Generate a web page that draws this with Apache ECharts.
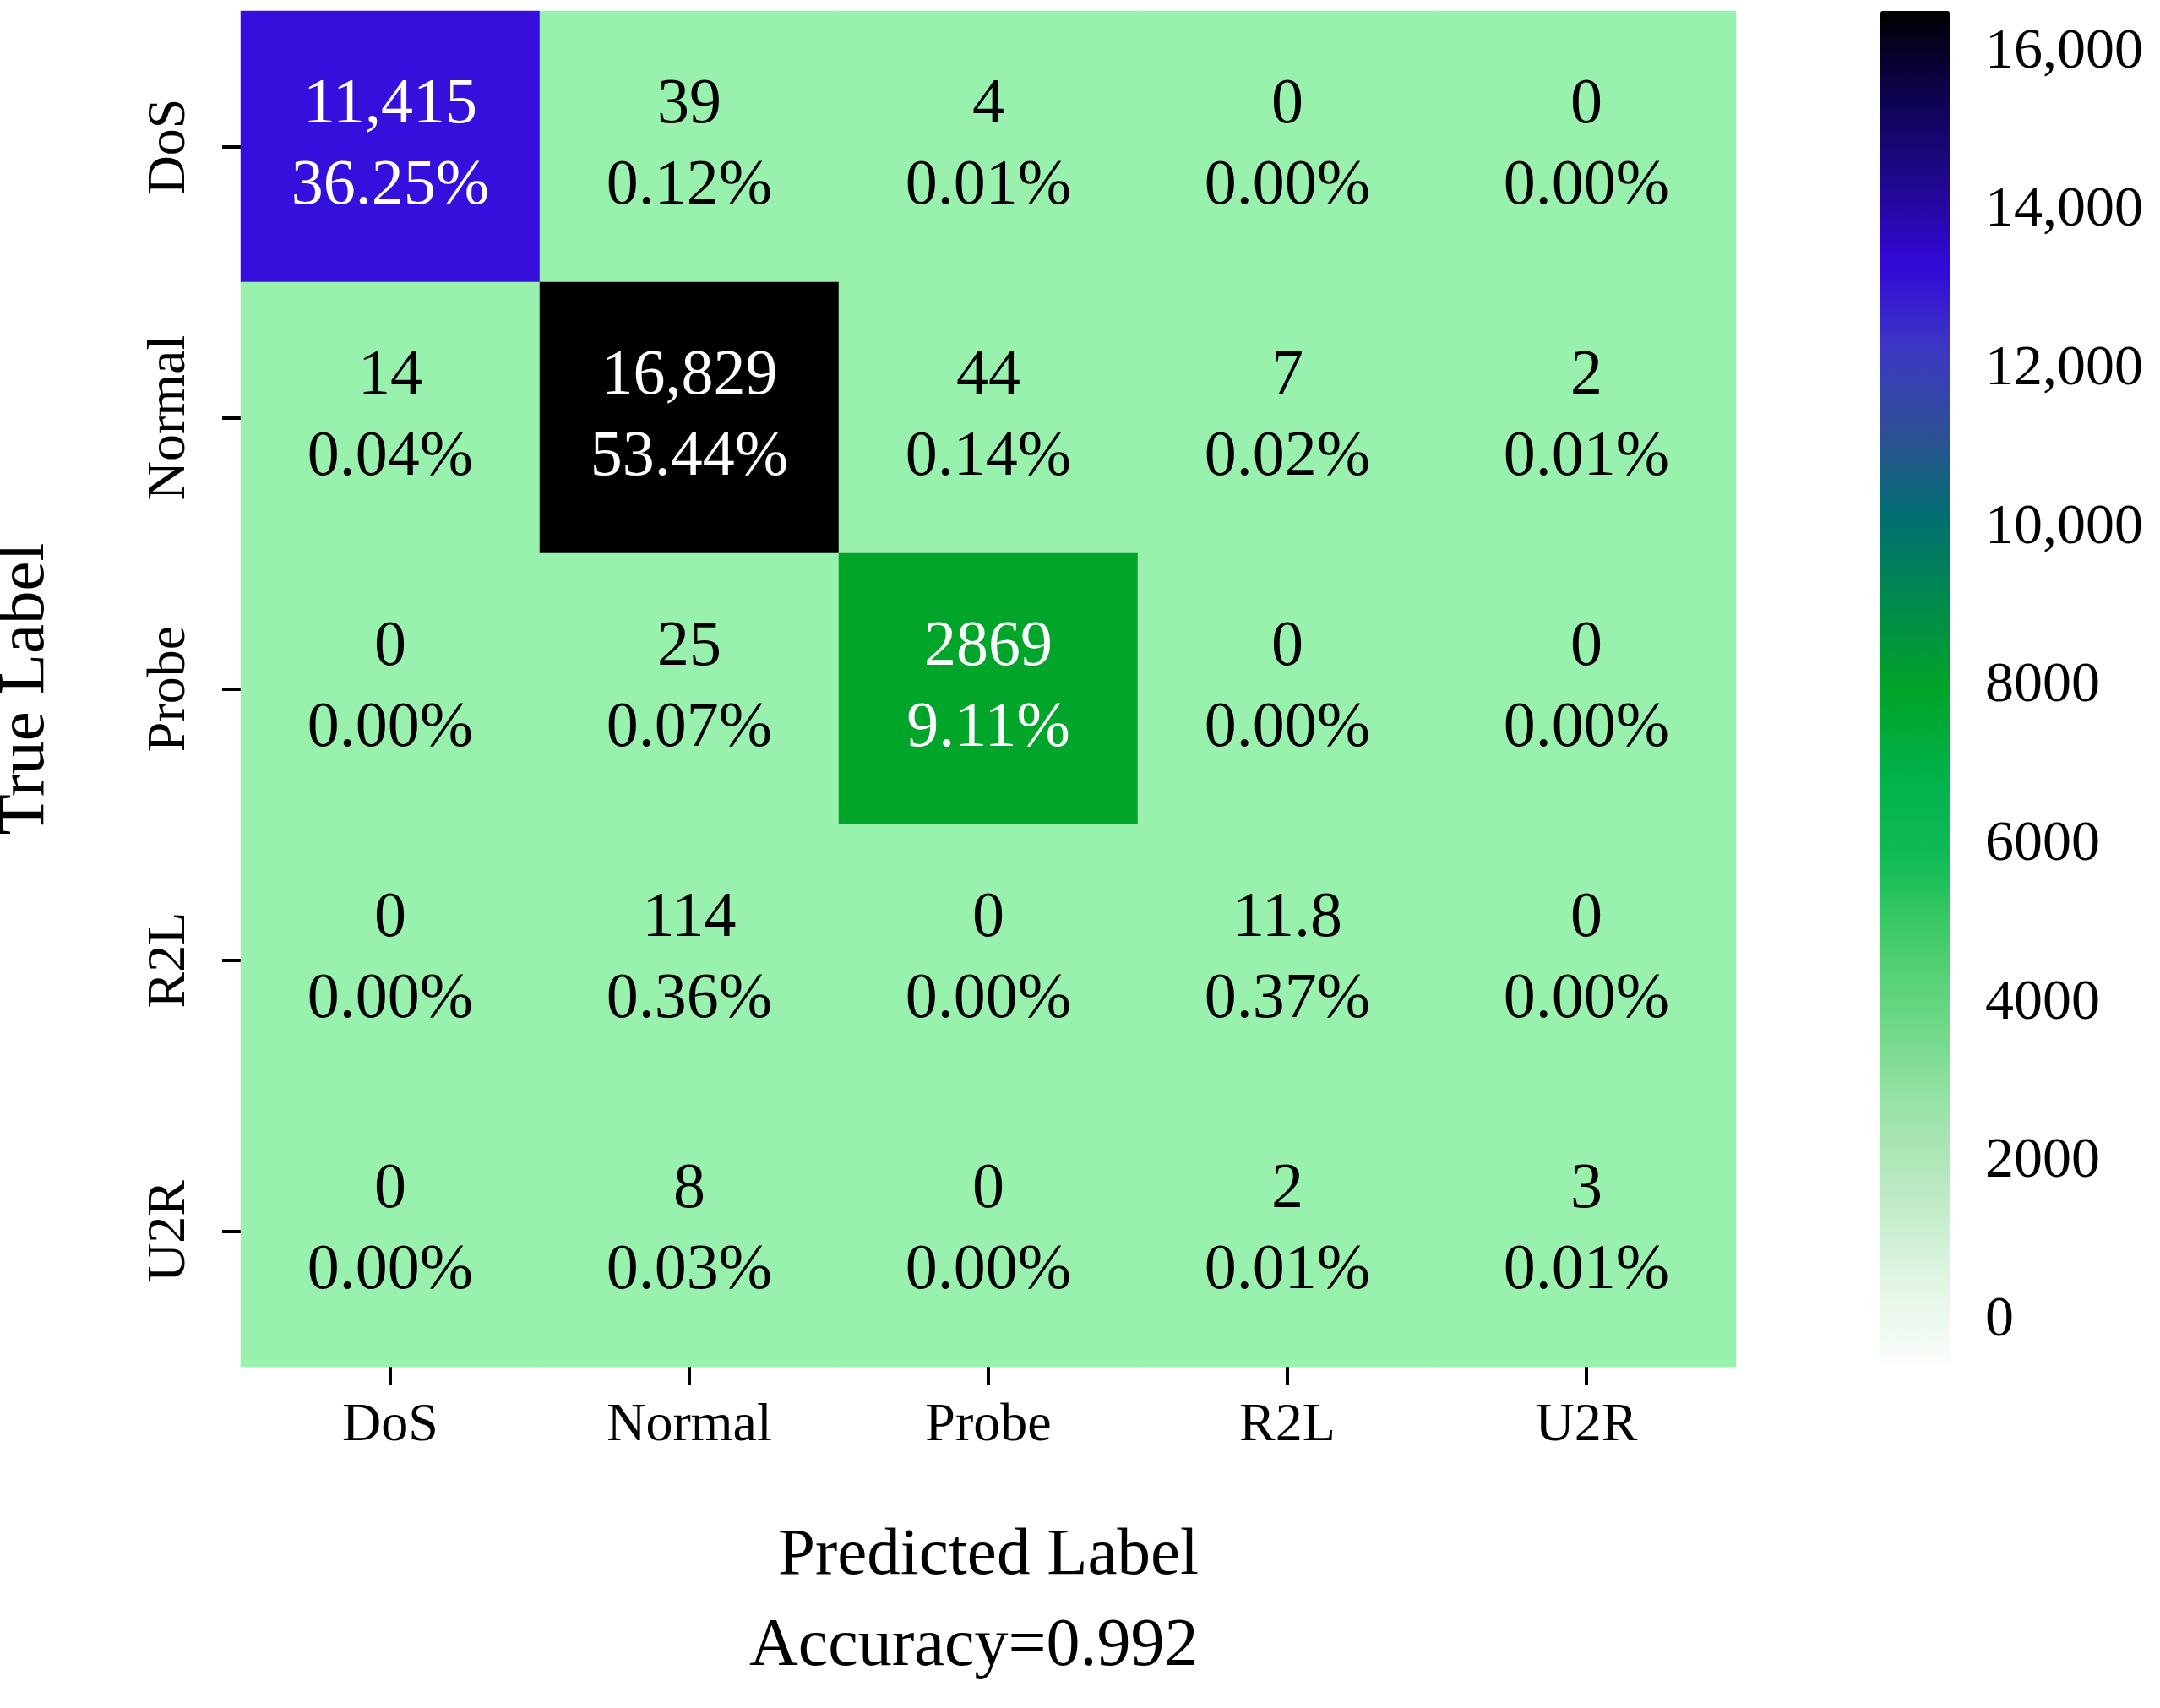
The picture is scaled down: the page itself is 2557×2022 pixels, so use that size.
<!DOCTYPE html>
<html>
<head>
<meta charset="utf-8">
<script src="https://cdn.jsdelivr.net/npm/echarts@6/dist/echarts.min.js"></script>
<style>html,body{margin:0;background:#fff}#chart{width:2557px;height:2022px}</style>
</head>
<body>
<div id="chart"></div>
<script>
var labels = ['DoS', 'Normal', 'Probe', 'R2L', 'U2R'];
// rows = true label, cols = predicted label
var counts = [
	[11415, 39, 4, 0, 0],
	[14, 16829, 44, 7, 2],
	[0, 25, 2869, 0, 0],
	[0, 114, 0, 118, 0],
	[0, 8, 0, 2, 3]
];
var countText = [
	['11,415', '39', '4', '0', '0'],
	['14', '16,829', '44', '7', '2'],
	['0', '25', '2869', '0', '0'],
	['0', '114', '0', '11.8', '0'],
	['0', '8', '0', '2', '3']
];
var percents = [
	[36.25, 0.12, 0.01, 0.00, 0.00],
	[0.04, 53.44, 0.14, 0.02, 0.01],
	[0.00, 0.07, 9.11, 0.00, 0.00],
	[0.00, 0.36, 0.00, 0.37, 0.00],
	[0.00, 0.03, 0.00, 0.01, 0.01]
];
var accuracy = '0.992';

var font = 'Liberation Serif';
var cells = [];
for (var r = 0; r < labels.length; r++) {
	for (var c = 0; c < labels.length; c++) {
		var big = counts[r][c] > 1000;
		cells.push({
			value: [c, r, counts[r][c]],
			label: {
				formatter: countText[r][c] + '\n' + percents[r][c].toFixed(2) + '%',
				color: big ? '#ffffff' : '#000000'
			}
		});
	}
}

var myChart = echarts.init(document.getElementById('chart'));
var option = {
	backgroundColor: '#fff',
	animation: false,
	textStyle: { fontFamily: font },
	grid: [
		{ left: 285, top: 13, width: 1770, height: 1605, outerBoundsMode: 'none', containLabel: false },
		{ left: 2226, top: 62, width: 82, height: 1501, outerBoundsMode: 'none', containLabel: false }
	],
	xAxis: [{
		type: 'category', data: labels, gridIndex: 0, position: 'bottom',
		name: 'Predicted Label', nameLocation: 'middle', nameGap: 185,
		nameTextStyle: { fontSize: 79, color: '#000', fontFamily: font },
		axisLine: { show: false },
		axisTick: { show: true, alignWithLabel: true, length: 22, lineStyle: { color: '#000', width: 4 } },
		axisLabel: { fontSize: 64, color: '#000', margin: 38, fontFamily: font },
		splitLine: { show: false }
	}, {
		type: 'value', gridIndex: 1, show: false
	}],
	yAxis: [{
		type: 'category', data: labels, inverse: true, gridIndex: 0,
		name: 'True Label', nameLocation: 'middle', nameGap: 215, nameRotate: 90,
		nameTextStyle: { fontSize: 79, color: '#000', fontFamily: font },
		axisLine: { show: false },
		axisTick: { show: true, alignWithLabel: true, length: 22, lineStyle: { color: '#000', width: 4 } },
		axisLabel: { fontSize: 64, color: '#000', rotate: 90, margin: 52, fontFamily: font },
		splitLine: { show: false }
	}, {
		type: 'value', gridIndex: 1, position: 'right', min: 0, max: 16000, interval: 2000,
		axisLine: { show: false },
		axisTick: { show: true, length: 28, lineStyle: { color: '#000', width: 4 } },
		axisLabel: {
			fontSize: 68, color: '#000', margin: 42, fontFamily: font,
			formatter: function(v) { return v >= 10000 ? v.toLocaleString('en-US') : String(v); }
		},
		splitLine: { show: false }
	}],
	visualMap: [{
		type: 'piecewise', show: false, seriesIndex: 0, dimension: 2,
		pieces: [
			{ lte: 200, color: '#98f2ae' },
			{ gt: 200, lte: 5000, color: '#00a52a' },
			{ gt: 5000, lte: 13000, color: '#3510dc' },
			{ gt: 13000, color: '#000000' }
		]
	}, {
		type: 'continuous', seriesIndex: 1, min: -556, max: 16521,
		left: 2226, top: 13, padding: 0, itemWidth: 82, itemHeight: 1602,
		calculable: false, text: ['', ''], showLabel: false, orient: 'vertical',
		inRange: {
			color: ['#fbfdfb', '#e0f5e3', '#bdeac5', '#9be3a8', '#6fd888', '#45cc6a',
				'#10bb55', '#00b148', '#00a428', '#008a4a', '#007070', '#2e5094',
				'#3d38c4', '#3208d8', '#20088c', '#0c0350', '#000000']
		},
		formatter: function() { return ''; }
	}],
	series: [{
		type: 'heatmap', xAxisIndex: 0, yAxisIndex: 0,
		data: cells,
		label: {
			show: true, fontSize: 76, lineHeight: 96, fontFamily: font
		},
		itemStyle: { borderWidth: 0 },
		emphasis: { disabled: true }
	}, {
		type: 'scatter', xAxisIndex: 1, yAxisIndex: 1, data: [], symbolSize: 0
	}],
	graphic: [{
		type: 'text', left: 887, top: 1910,
		style: { text: 'Accuracy=' + accuracy, fontSize: 80, fontFamily: font, fill: '#000' }
	}]
};
myChart.setOption(option);
</script>
</body>
</html>
